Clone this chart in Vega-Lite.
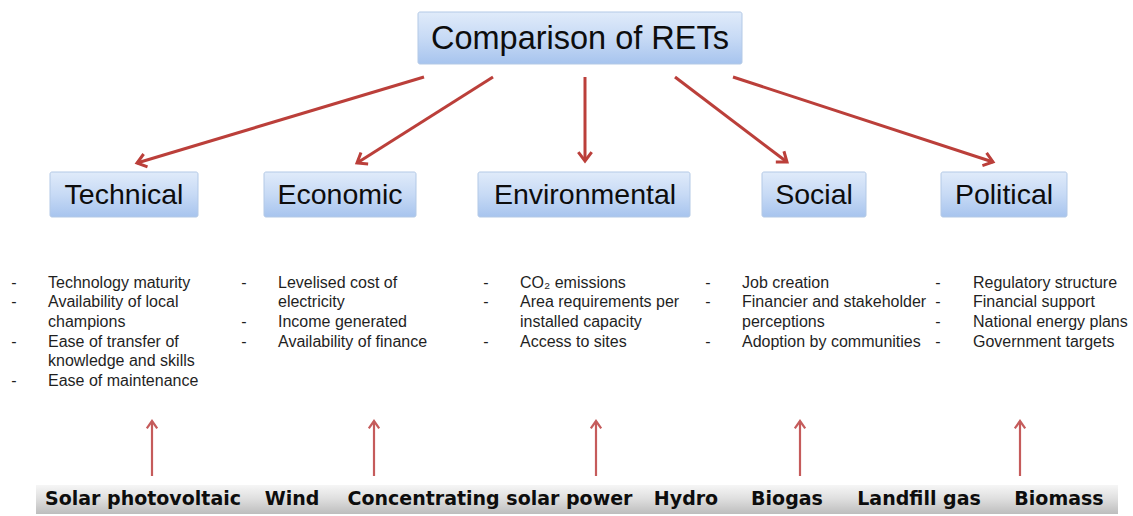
{
  "$schema": "https://vega.github.io/schema/vega-lite/v6.json",
  "width": 1133,
  "height": 516,
  "autosize": "none",
  "padding": 0,
  "background": "white",
  "config": {"view": {"stroke": null}},
  "datasets": {
    "boxes": [
      {"label": "Comparison of RETs", "level": "top", "x1": 418, "x2": 742, "y1": 12, "y2": 64, "cx": 580, "cy": 39},
      {"label": "Technical", "level": "cat", "x1": 50, "x2": 198, "y1": 172, "y2": 217, "cx": 124, "cy": 195},
      {"label": "Economic", "level": "cat", "x1": 264, "x2": 416, "y1": 172, "y2": 217, "cx": 340, "cy": 195},
      {"label": "Environmental", "level": "cat", "x1": 478, "x2": 690, "y1": 172, "y2": 217, "cx": 585, "cy": 195},
      {"label": "Social", "level": "cat", "x1": 762, "x2": 866, "y1": 172, "y2": 217, "cx": 814, "cy": 195},
      {"label": "Political", "level": "cat", "x1": 941, "x2": 1067, "y1": 172, "y2": 217, "cx": 1004, "cy": 195}
    ],
    "arrows": [
      {"to": "Technical", "group": "top", "x1": 424, "y1": 77, "x2": 137, "y2": 163, "angle": 253.3},
      {"to": "Economic", "group": "top", "x1": 493, "y1": 77, "x2": 357, "y2": 163, "angle": 237.7},
      {"to": "Environmental", "group": "top", "x1": 585, "y1": 77, "x2": 585, "y2": 161, "angle": 180},
      {"to": "Social", "group": "top", "x1": 675, "y1": 77, "x2": 787, "y2": 162, "angle": 127.2},
      {"to": "Political", "group": "top", "x1": 733, "y1": 77, "x2": 993, "y2": 162, "angle": 108.1},
      {"to": "Technical", "group": "bottom", "x1": 152, "y1": 476, "x2": 152, "y2": 421, "angle": 0},
      {"to": "Economic", "group": "bottom", "x1": 374, "y1": 476, "x2": 374, "y2": 421, "angle": 0},
      {"to": "Environmental", "group": "bottom", "x1": 596, "y1": 476, "x2": 596, "y2": 421, "angle": 0},
      {"to": "Social", "group": "bottom", "x1": 800, "y1": 476, "x2": 800, "y2": 421, "angle": 0},
      {"to": "Political", "group": "bottom", "x1": 1020, "y1": 476, "x2": 1020, "y2": 421, "angle": 0}
    ],
    "bullets": [
      {"x": 14, "y": 283}, {"x": 14, "y": 302}, {"x": 14, "y": 342}, {"x": 14, "y": 381},
      {"x": 244, "y": 283}, {"x": 244, "y": 322}, {"x": 244, "y": 342},
      {"x": 486, "y": 283}, {"x": 486, "y": 302}, {"x": 486, "y": 342},
      {"x": 708, "y": 283}, {"x": 708, "y": 302}, {"x": 708, "y": 342},
      {"x": 938, "y": 283}, {"x": 938, "y": 302}, {"x": 938, "y": 322}, {"x": 938, "y": 342}
    ],
    "lines": [
      {"criterion": "Technical", "x": 48, "y": 283, "text": "Technology maturity"},
      {"criterion": "Technical", "x": 48, "y": 302, "text": "Availability of local"},
      {"criterion": "Technical", "x": 48, "y": 322, "text": "champions"},
      {"criterion": "Technical", "x": 48, "y": 342, "text": "Ease of transfer of"},
      {"criterion": "Technical", "x": 48, "y": 361, "text": "knowledge and skills"},
      {"criterion": "Technical", "x": 48, "y": 381, "text": "Ease of maintenance"},
      {"criterion": "Economic", "x": 278, "y": 283, "text": "Levelised cost of"},
      {"criterion": "Economic", "x": 278, "y": 302, "text": "electricity"},
      {"criterion": "Economic", "x": 278, "y": 322, "text": "Income generated"},
      {"criterion": "Economic", "x": 278, "y": 342, "text": "Availability of finance"},
      {"criterion": "Environmental", "x": 520, "y": 283, "text": "CO₂ emissions"},
      {"criterion": "Environmental", "x": 520, "y": 302, "text": "Area requirements per"},
      {"criterion": "Environmental", "x": 520, "y": 322, "text": "installed capacity"},
      {"criterion": "Environmental", "x": 520, "y": 342, "text": "Access to sites"},
      {"criterion": "Social", "x": 742, "y": 283, "text": "Job creation"},
      {"criterion": "Social", "x": 742, "y": 302, "text": "Financier and stakeholder"},
      {"criterion": "Social", "x": 742, "y": 322, "text": "perceptions"},
      {"criterion": "Social", "x": 742, "y": 342, "text": "Adoption by communities"},
      {"criterion": "Political", "x": 973, "y": 283, "text": "Regulatory structure"},
      {"criterion": "Political", "x": 973, "y": 302, "text": "Financial support"},
      {"criterion": "Political", "x": 973, "y": 322, "text": "National energy plans"},
      {"criterion": "Political", "x": 973, "y": 342, "text": "Government targets"}
    ],
    "bar": [{"x1": 36, "x2": 1118, "y1": 485, "y2": 514}],
    "techs": [
      {"tech": "Solar photovoltaic", "x": 143, "y": 499},
      {"tech": "Wind", "x": 292, "y": 499},
      {"tech": "Concentrating solar power", "x": 490, "y": 499},
      {"tech": "Hydro", "x": 686, "y": 499},
      {"tech": "Biogas", "x": 787, "y": 499},
      {"tech": "Landfill gas", "x": 919, "y": 499},
      {"tech": "Biomass", "x": 1059, "y": 499}
    ]
  },
  "layer": [
    {
      "data": {"name": "bar"},
      "mark": {"type": "rect", "fill": "#9a9a9a", "opacity": 0.45, "xOffset": 2, "yOffset": 2},
      "encoding": {
        "x": {"field": "x1", "type": "quantitative", "scale": {"domain": [0, 1133], "nice": false, "zero": false}, "axis": null},
        "x2": {"field": "x2"},
        "y": {"field": "y1", "type": "quantitative", "scale": {"domain": [0, 516], "reverse": true, "nice": false, "zero": false}, "axis": null},
        "y2": {"field": "y2"}
      }
    },
    {
      "data": {"name": "bar"},
      "mark": {"type": "rect", "fill": {"gradient": "linear", "x1": 0, "y1": 0, "x2": 0, "y2": 1, "stops": [{"offset": 0, "color": "#f6f6f6"}, {"offset": 0.45, "color": "#e0e0e0"}, {"offset": 1, "color": "#bdbdbd"}]}},
      "encoding": {
        "x": {"field": "x1", "type": "quantitative"},
        "x2": {"field": "x2"},
        "y": {"field": "y1", "type": "quantitative"},
        "y2": {"field": "y2"}
      }
    },
    {
      "data": {"name": "boxes"},
      "mark": {"type": "rect", "fill": "#9aa6b4", "opacity": 0.4, "yOffset": 3, "xOffset": 1, "cornerRadius": 2},
      "encoding": {
        "x": {"field": "x1", "type": "quantitative"},
        "x2": {"field": "x2"},
        "y": {"field": "y1", "type": "quantitative"},
        "y2": {"field": "y2"}
      }
    },
    {
      "data": {"name": "boxes"},
      "mark": {"type": "rect", "cornerRadius": 2, "stroke": "#b3c9e6", "strokeWidth": 1, "fill": {"gradient": "linear", "x1": 0, "y1": 0, "x2": 0, "y2": 1, "stops": [{"offset": 0, "color": "#e0ebfa"}, {"offset": 0.5, "color": "#c7daf5"}, {"offset": 1, "color": "#a7c4ee"}]}},
      "encoding": {
        "x": {"field": "x1", "type": "quantitative"},
        "x2": {"field": "x2"},
        "y": {"field": "y1", "type": "quantitative"},
        "y2": {"field": "y2"}
      }
    },
    {
      "data": {"name": "boxes"},
      "transform": [{"filter": "datum.level === 'top'"}],
      "mark": {"type": "text", "font": "Liberation Sans", "fontSize": 32.5, "color": "#0d0d0d", "align": "center", "baseline": "middle"},
      "encoding": {
        "x": {"field": "cx", "type": "quantitative"},
        "y": {"field": "cy", "type": "quantitative"},
        "text": {"field": "label"}
      }
    },
    {
      "data": {"name": "boxes"},
      "transform": [{"filter": "datum.level === 'cat'"}],
      "mark": {"type": "text", "font": "Liberation Sans", "fontSize": 28.5, "color": "#0d0d0d", "align": "center", "baseline": "middle"},
      "encoding": {
        "x": {"field": "cx", "type": "quantitative"},
        "y": {"field": "cy", "type": "quantitative"},
        "text": {"field": "label"}
      }
    },
    {
      "data": {"name": "arrows"},
      "transform": [{"filter": "datum.group === 'top'"}],
      "mark": {"type": "rule", "color": "#bb3f3a", "strokeWidth": 3},
      "encoding": {
        "x": {"field": "x1", "type": "quantitative"},
        "y": {"field": "y1", "type": "quantitative"},
        "x2": {"field": "x2"},
        "y2": {"field": "y2"}
      }
    },
    {
      "data": {"name": "arrows"},
      "transform": [{"filter": "datum.group === 'top'"}],
      "mark": {"type": "point", "shape": "M-0.75,1L0,0L0.75,1", "filled": false, "stroke": "#bb3f3a", "strokeWidth": 3, "size": 320, "opacity": 1},
      "encoding": {
        "x": {"field": "x2", "type": "quantitative"},
        "y": {"field": "y2", "type": "quantitative"},
        "angle": {"field": "angle", "type": "quantitative", "scale": null}
      }
    },
    {
      "data": {"name": "arrows"},
      "transform": [{"filter": "datum.group === 'bottom'"}],
      "mark": {"type": "rule", "color": "#c55b5b", "strokeWidth": 2.2},
      "encoding": {
        "x": {"field": "x1", "type": "quantitative"},
        "y": {"field": "y1", "type": "quantitative"},
        "x2": {"field": "x2"},
        "y2": {"field": "y2"}
      }
    },
    {
      "data": {"name": "arrows"},
      "transform": [{"filter": "datum.group === 'bottom'"}],
      "mark": {"type": "point", "shape": "M-0.7,1L0,0L0.7,1", "filled": false, "stroke": "#c55b5b", "strokeWidth": 2.2, "size": 220, "opacity": 1},
      "encoding": {
        "x": {"field": "x2", "type": "quantitative"},
        "y": {"field": "y2", "type": "quantitative"},
        "angle": {"field": "angle", "type": "quantitative", "scale": null}
      }
    },
    {
      "data": {"name": "bullets"},
      "mark": {"type": "text", "text": "-", "font": "Liberation Sans", "fontSize": 16, "color": "#1f1f1f", "align": "center", "baseline": "middle"},
      "encoding": {
        "x": {"field": "x", "type": "quantitative"},
        "y": {"field": "y", "type": "quantitative"}
      }
    },
    {
      "data": {"name": "lines"},
      "mark": {"type": "text", "font": "Liberation Sans", "fontSize": 16, "color": "#1f1f1f", "align": "left", "baseline": "middle"},
      "encoding": {
        "x": {"field": "x", "type": "quantitative"},
        "y": {"field": "y", "type": "quantitative"},
        "text": {"field": "text"}
      }
    },
    {
      "data": {"name": "techs"},
      "mark": {"type": "text", "font": "DejaVu Sans", "fontWeight": "bold", "fontSize": 19, "color": "#0d0d0d", "align": "center", "baseline": "middle"},
      "encoding": {
        "x": {"field": "x", "type": "quantitative"},
        "y": {"field": "y", "type": "quantitative"},
        "text": {"field": "tech"}
      }
    }
  ]
}
